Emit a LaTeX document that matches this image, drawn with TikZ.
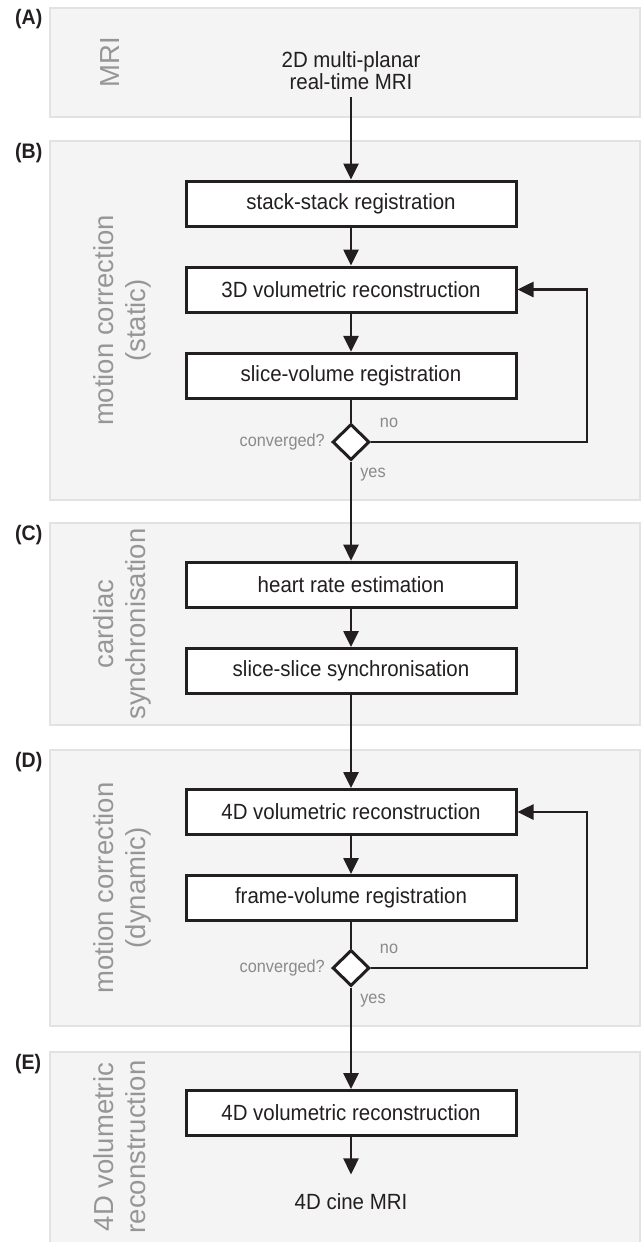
\documentclass[tikz,border=0pt]{standalone}
\usepackage{fontspec}
\setmainfont{Liberation Sans}
\newfontfamily\condfont[FakeStretch=0.93]{Liberation Sans}
\usetikzlibrary{arrows.meta,shapes.geometric}
\definecolor{panelfill}{HTML}{F4F4F4}
\definecolor{panelline}{HTML}{E2E2E2}
\definecolor{sidegray}{HTML}{969696}
\definecolor{smallgray}{HTML}{8A8A8A}
\definecolor{ink}{HTML}{231F20}
\begin{document}
\begin{tikzpicture}[x=1pt,y=-1pt,
 panel/.style={fill=panelfill,draw=panelline,line width=2pt},
 tag/.style={font=\condfont\fontsize{21}{24}\selectfont\bfseries,text=ink,anchor=west,inner sep=0pt},
 side/.style={font=\fontsize{27.5}{32}\selectfont,text=sidegray,rotate=90,align=center,inner sep=0pt},
 stepbox/.style={draw=ink,fill=white,line width=3pt,minimum width=330pt,minimum height=45pt,inner sep=0pt,font=\condfont\fontsize{22}{22}\selectfont,text=ink},
 plain/.style={font=\condfont\fontsize{22}{22}\selectfont,text=ink,inner sep=0pt,align=center},
 decision/.style={diamond,aspect=1,draw=ink,fill=white,line width=3pt,minimum width=37pt,minimum height=36pt,inner sep=0pt},
 note/.style={font=\condfont\fontsize{17.5}{18}\selectfont,text=smallgray,inner sep=0pt},
 flow/.style={draw=ink,line width=2.6pt},
 arr/.style={flow,-{Triangle[length=16pt,width=15pt]}}
]
\useasboundingbox (0,0) rectangle (643,1242);

% panels
\path[panel] (50,8) rectangle (640,117);
\path[panel] (50,141) rectangle (640,500);
\path[panel] (50,523) rectangle (640,725);
\path[panel] (50,750) rectangle (640,1026);
\path[panel] (50,1052) rectangle (640,1262);

% panel tags
\node[tag] (tA) at (15,19.5) {(A)};
\node[tag] (tB) at (15,153) {(B)};
\node[tag] (tC) at (15,535) {(C)};
\node[tag] (tD) at (15,762) {(D)};
\node[tag] (tE) at (15,1064) {(E)};

% side labels
\node[side] (sA) at (110,62.5) {MRI};
\node[side] (sB) at (122,320.5) {motion correction\\(static)};
\node[side] (sC) at (122,624) {cardiac\\synchronisation};
\node[side] (sD) at (122,888) {motion correction\\(dynamic)};
\node[side] (sE) at (120,1147) {4D volumetric\\reconstruction};

% panel A
\node[plain,anchor=south] (mri) at (351,90) {2D multi-planar\\real-time MRI};

% panel B
\node[stepbox] (ss) at (351,203.5) {stack-stack registration};
\node[stepbox] (r3d) at (351,289.5) {3D volumetric reconstruction};
\node[stepbox] (sv) at (351,375.8) {slice-volume registration};
\node[decision] (dB) at (351,442) {};
\node[note,anchor=east] (cB) at (325,442) {converged?};
\node[note] (noB) at (389,423) {no};
\node[note] (yesB) at (373,474.5) {yes};
\coordinate (lB) at (587,442);

% panel C
\node[stepbox] (hr) at (351,584.7) {heart rate estimation};
\node[stepbox] (sls) at (351,671) {slice-slice synchronisation};

% panel D
\node[stepbox] (r4d) at (351,812) {4D volumetric reconstruction};
\node[stepbox] (fv) at (351,898) {frame-volume registration};
\node[decision] (dD) at (351,968) {};
\node[note,anchor=east] (cD) at (325,968) {converged?};
\node[note] (noD) at (389,949) {no};
\node[note] (yesD) at (373,1000.5) {yes};
\coordinate (lD) at (587,968);

% panel E
\node[stepbox] (r4e) at (351,1113) {4D volumetric reconstruction};
\node[plain,anchor=south] (cine) at (351,1209.5) {4D cine MRI};

% connectors
\draw[arr,shorten <=7pt] (mri.south) -- (ss.north);
\draw[arr] (ss.south) -- (r3d.north);
\draw[arr] (r3d.south) -- (sv.north);
\draw[flow] (sv.south) -- (dB.north);
\draw[arr] (dB.east) -- (lB) |- (r3d.east);
\draw[arr] (dB.south) -- (hr.north);
\draw[arr] (hr.south) -- (sls.north);
\draw[arr] (sls.south) -- (r4d.north);
\draw[arr] (r4d.south) -- (fv.north);
\draw[flow] (fv.south) -- (dD.north);
\draw[arr] (dD.east) -- (lD) |- (r4d.east);
\draw[arr] (dD.south) -- (r4e.north);
\draw[arr,shorten >=18.5pt] (r4e.south) -- (cine.north);
\end{tikzpicture}
\end{document}
